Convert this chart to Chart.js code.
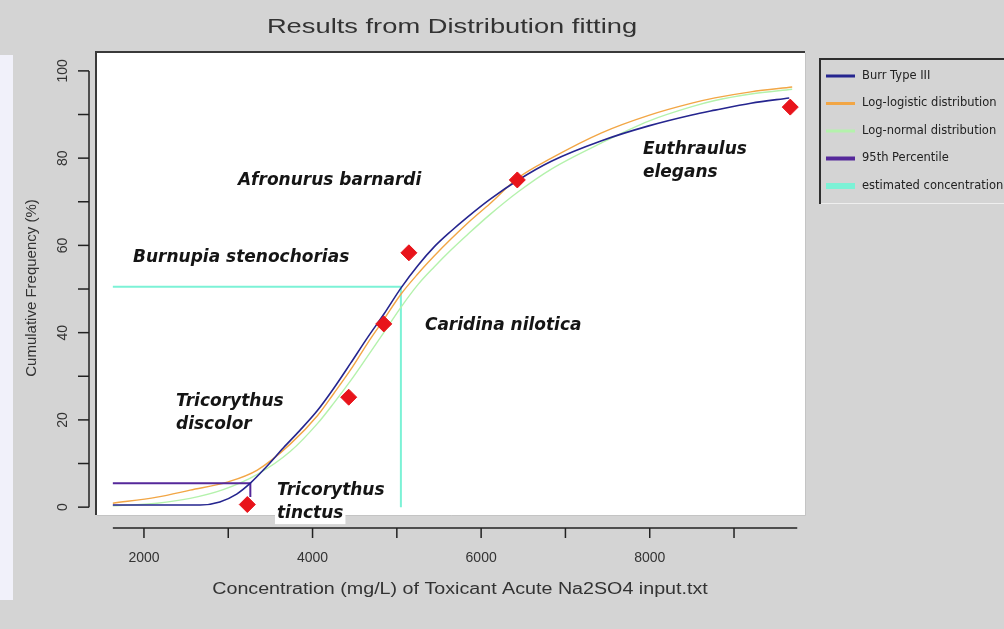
<!DOCTYPE html>
<html><head><meta charset="utf-8">
<script src="https://cdn.jsdelivr.net/npm/chart.js@4"></script>
<style>
html,body{margin:0;padding:0;background:#d4d4d4;overflow:hidden}
#wrap{position:relative;width:1004px;height:629px}
#side{position:absolute;left:0;top:55px;width:13px;height:545px;background:#f1f1fa}
canvas{position:absolute;left:0;top:0}
</style></head><body>
<div id="wrap"><div id="side"></div><canvas id="c" width="1004" height="629"></canvas></div>
<script>
const chartTitle = 'Results from Distribution fitting';
const xAxisTitle = 'Concentration (mg/L) of Toxicant Acute Na2SO4 input.txt';
const yAxisTitle = 'Cumulative Frequency (%)';
const xTickValues = [2000,3000,4000,5000,6000,7000,8000,9000];
const xTickLabels = ['2000','','4000','','6000','','8000',''];
const yTickValues = [0,10,20,30,40,50,60,70,80,90,100];
const yTickLabels = ['0','','20','','40','','60','','80','','100'];

const seriesNames = ['Burr Type III','Log-logistic distribution','Log-normal distribution','95th Percentile','estimated concentration'];

const burrX = [1631,2667,2900,3100,3262,3450,3655,3850,4060,4250,4452,4650,4845,5048,5250,5440,5645,5845,6100,6440,6833,7429,7988,8500,8774,9200,9655];
const burrY = [0.5,0.5,1.2,3.0,5.5,9.2,13.6,17.6,22.2,27.2,33,38.8,44.2,50.2,55.4,59.6,63.3,66.6,70.5,75,79.3,84,87.4,89.9,91,92.6,93.8];

const logLogisticX = [1631,2155,2548,3000,3345,3738,4060,4250,4452,4650,4845,5048,5250,5440,5645,5880,6100,6440,6833,7429,7988,8500,8774,9200,9690];
const logLogisticY = [0.9,2.3,3.9,5.8,8.5,14.5,21,26,31.5,37.5,43,48.8,53.5,57.5,61.5,65.8,69.5,75.5,80,85.8,89.8,92.6,93.8,95.2,96.3];

const logNormalX = [1631,2155,2548,2940,3345,3738,4060,4250,4452,4650,4845,5048,5250,5440,5645,5845,6100,6440,6833,7429,7988,8500,8774,9200,9690];
const logNormalY = [0.3,0.9,2,4,7.5,12.8,19.2,23.8,29,34.5,40,45.8,51,55,59,62.6,67,72.3,77.5,83.5,88.5,91.8,93.2,94.7,95.8];

const percentile95X = [1631,3262,3262];
const percentile95Y = [5.5,5.5,2.3];

const estimatedX = [1631,5048,5048];
const estimatedY = [50.5,50.5,0];

const speciesX = [3226,4429,4845,5143,6429,9667];
const speciesY = [0.6,25.2,42,58.3,75,91.7];

const speciesLabels = [['Afronurus barnardi'],['Burnupia stenochorias'],['Caridina nilotica'],['Tricorythus','discolor'],['Tricorythus','tinctus'],['Euthraulus','elegans']];
const speciesLabelX = [3115,1870,5333,2380,3578,7919];
const speciesLabelY = [74.8,57.3,41.7,24.1,3.9,81.9];

const zip = (xs, ys) => xs.map((x, i) => ({x, y: ys[i]}));

const colors = {
  burr: '#25258f', logl: '#f2a645', logn: '#b4f2ac', p95: '#55289a', est: '#7cf2d6', pts: '#e8141b'
};

function stretchedText(ctx, text, x, y, sx) {
  ctx.save();
  ctx.translate(x, y);
  ctx.scale(sx, 1);
  ctx.fillText(text, 0, 0);
  ctx.restore();
}

const customPlugin = {
  id: 'custom',
  beforeDraw(chart) {
    const {ctx, chartArea: a} = chart;
    ctx.save();
    ctx.fillStyle = '#ffffff';
    ctx.fillRect(a.left, a.top, a.right - a.left, a.bottom - a.top);
    ctx.strokeStyle = '#c4c4c4'; ctx.lineWidth = 1;
    ctx.beginPath(); ctx.moveTo(a.right + 0.5, a.top); ctx.lineTo(a.right + 0.5, a.bottom + 0.5); ctx.lineTo(a.left, a.bottom + 0.5); ctx.stroke();
    ctx.strokeStyle = '#3a3a3a'; ctx.lineWidth = 2;
    ctx.beginPath(); ctx.moveTo(a.left - 1, a.bottom); ctx.lineTo(a.left - 1, a.top - 1); ctx.lineTo(a.right, a.top - 1); ctx.stroke();
    ctx.restore();
  },
  afterDatasetsDraw(chart) {
    const {ctx} = chart;
    const xs = chart.scales.x, ys = chart.scales.y;
    ctx.save();
    ctx.font = 'bold oblique 17px "DejaVu Sans", sans-serif';
    ctx.textBaseline = 'middle';
    ctx.textAlign = 'left';
    speciesLabels.forEach((lines, i) => {
      const px = xs.getPixelForValue(speciesLabelX[i]);
      const py = ys.getPixelForValue(speciesLabelY[i]);
      lines.forEach((t, j) => {
        const w = ctx.measureText(t).width;
        const yy = py + j * 23;
        ctx.fillStyle = '#ffffff';
        ctx.fillRect(px - 2, yy - 11, w + 4, 22);
        ctx.fillStyle = '#151515';
        ctx.fillText(t, px, yy);
      });
    });
    ctx.restore();
  },
  afterDraw(chart) {
    const {ctx} = chart;
    const xs = chart.scales.x, ys = chart.scales.y;
    ctx.save();
    // Title
    ctx.fillStyle = '#333333';
    ctx.font = '21px "Liberation Sans", Arial, sans-serif';
    ctx.textAlign = 'center'; ctx.textBaseline = 'middle';
    stretchedText(ctx, chartTitle, 452, 27, 1.3);
    // y axis
    const yAxisX = 89;
    ctx.strokeStyle = '#222'; ctx.lineWidth = 1.5;
    ctx.beginPath();
    ctx.moveTo(yAxisX, ys.getPixelForValue(yTickValues[0]));
    ctx.lineTo(yAxisX, ys.getPixelForValue(yTickValues[yTickValues.length - 1]));
    ctx.stroke();
    ctx.font = '14px "Liberation Sans", Arial, sans-serif';
    ctx.fillStyle = '#333';
    yTickValues.forEach((v, i) => {
      const py = ys.getPixelForValue(v);
      ctx.beginPath(); ctx.moveTo(yAxisX, py); ctx.lineTo(yAxisX - 11, py); ctx.stroke();
      if (yTickLabels[i]) {
        ctx.save(); ctx.translate(63, py); ctx.rotate(-Math.PI / 2);
        ctx.textAlign = 'center'; ctx.textBaseline = 'middle';
        ctx.fillText(yTickLabels[i], 0, 0);
        ctx.restore();
      }
    });
    // x axis
    const xAxisY = 528;
    ctx.beginPath();
    ctx.moveTo(xs.getPixelForValue(burrX[0]), xAxisY);
    ctx.lineTo(xs.getPixelForValue(9750), xAxisY);
    ctx.stroke();
    xTickValues.forEach((v, i) => {
      const px = xs.getPixelForValue(v);
      ctx.beginPath(); ctx.moveTo(px, xAxisY); ctx.lineTo(px, xAxisY + 10); ctx.stroke();
      if (xTickLabels[i]) {
        ctx.textAlign = 'center'; ctx.textBaseline = 'middle';
        ctx.fillText(xTickLabels[i], px, 558);
      }
    });
    // axis titles
    ctx.font = '16px "Liberation Sans", Arial, sans-serif';
    ctx.textAlign = 'center'; ctx.textBaseline = 'middle';
    stretchedText(ctx, xAxisTitle, 460, 590, 1.23);
    ctx.save(); ctx.translate(32, 288); ctx.rotate(-Math.PI / 2);
    ctx.font = '15px "Liberation Sans", Arial, sans-serif';
    ctx.fillText(yAxisTitle, 0, 0);
    ctx.restore();
    // legend
    ctx.strokeStyle = '#efefef'; ctx.lineWidth = 1;
    ctx.beginPath(); ctx.moveTo(820, 203.5); ctx.lineTo(1004, 203.5); ctx.stroke();
    ctx.strokeStyle = '#2e2e2e'; ctx.lineWidth = 2;
    ctx.beginPath(); ctx.moveTo(820, 204); ctx.lineTo(820, 59); ctx.lineTo(1004, 59); ctx.stroke();
    const legendWidths = [3, 3, 3, 4, 6];
    ctx.font = '11.5px "DejaVu Sans", sans-serif';
    ctx.textAlign = 'left'; ctx.textBaseline = 'middle';
    chart.data.datasets.slice(0, 5).forEach((ds, i) => {
      const yy = 76 + i * 27.5;
      ctx.strokeStyle = ds.borderColor; ctx.lineWidth = legendWidths[i];
      ctx.beginPath(); ctx.moveTo(826, yy); ctx.lineTo(855, yy); ctx.stroke();
      ctx.fillStyle = '#222';
      ctx.fillText(ds.label, 862, yy);
    });
    ctx.restore();
  }
};

new Chart(document.getElementById('c'), {
  type: 'line',
  data: {
    datasets: [
      {label: seriesNames[0], data: zip(burrX, burrY), borderColor: colors.burr, borderWidth: 1.6, pointRadius: 0, cubicInterpolationMode: 'monotone', order: 1},
      {label: seriesNames[1], data: zip(logLogisticX, logLogisticY), borderColor: colors.logl, borderWidth: 1.4, pointRadius: 0, cubicInterpolationMode: 'monotone', order: 3},
      {label: seriesNames[2], data: zip(logNormalX, logNormalY), borderColor: colors.logn, borderWidth: 1.4, pointRadius: 0, cubicInterpolationMode: 'monotone', order: 4},
      {label: seriesNames[3], data: zip(percentile95X, percentile95Y), borderColor: colors.p95, borderWidth: 2, pointRadius: 0, tension: 0, order: 2},
      {label: seriesNames[4], data: zip(estimatedX, estimatedY), borderColor: colors.est, borderWidth: 2, pointRadius: 0, tension: 0, order: 5},
      {label: 'Species', type: 'scatter', data: zip(speciesX, speciesY), backgroundColor: colors.pts, borderColor: colors.pts, pointStyle: 'rectRot', pointRadius: 8, showLine: false, order: 0}
    ]
  },
  options: {
    responsive: false,
    devicePixelRatio: 1,
    animation: false,
    layout: {padding: {left: 97, top: 53, right: 199, bottom: 114}},
    plugins: {legend: {display: false}, title: {display: false}, tooltip: {enabled: false}},
    scales: {
      x: {type: 'linear', min: 1443, max: 9842, display: false},
      y: {type: 'linear', min: -1.8, max: 104.1, display: false}
    }
  },
  plugins: [customPlugin]
});
</script>
</body></html>
